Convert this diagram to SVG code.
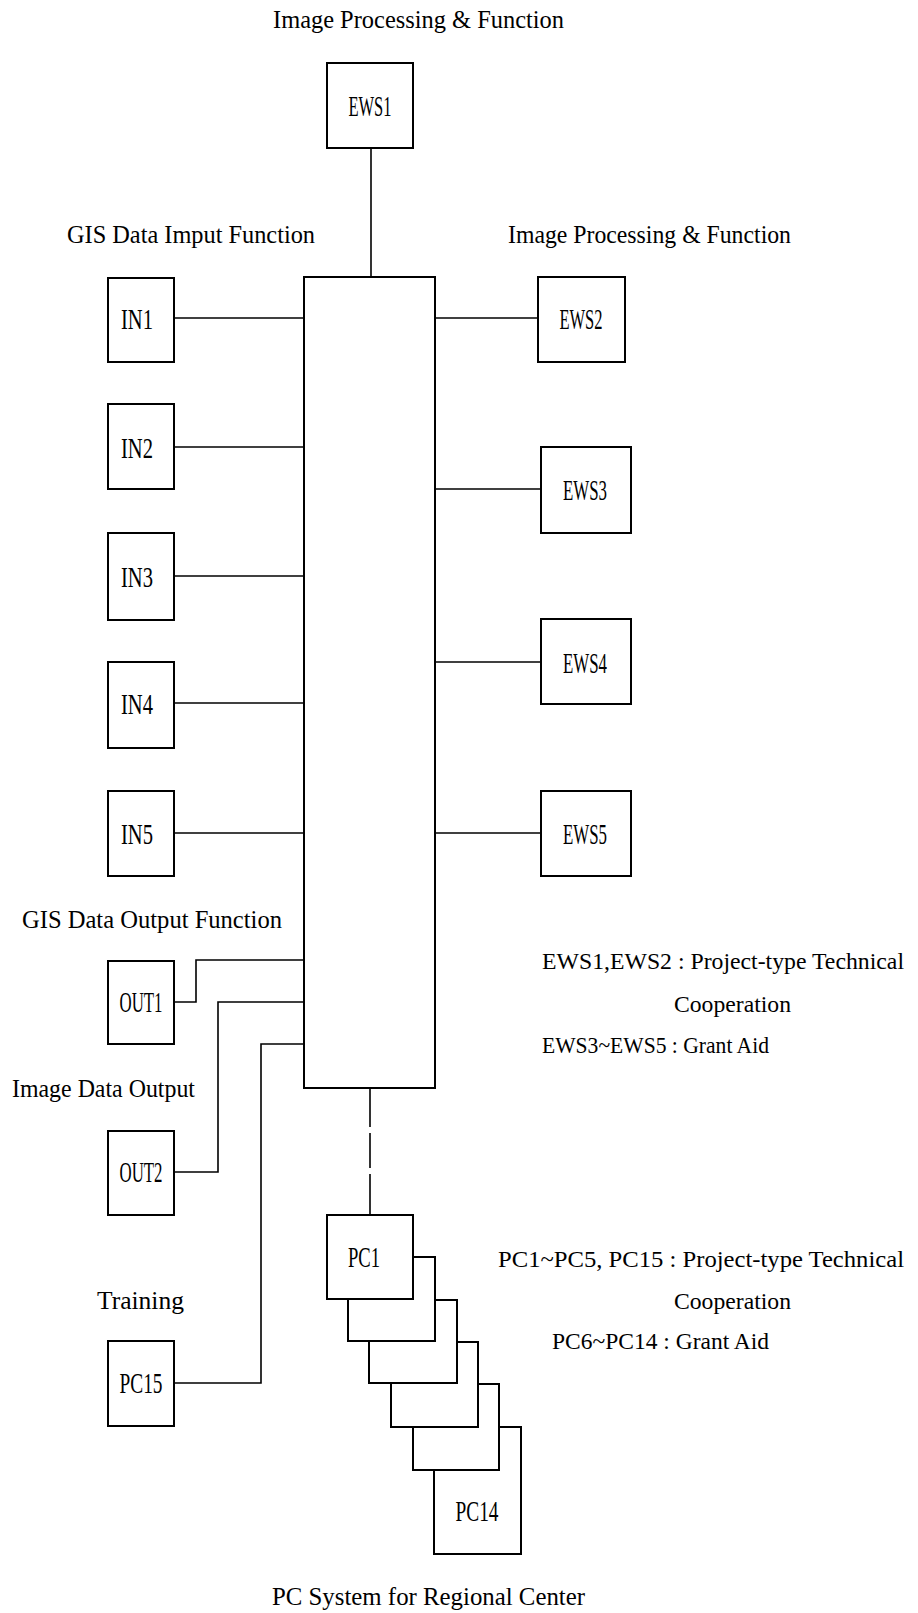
<svg xmlns="http://www.w3.org/2000/svg" width="918" height="1613" viewBox="0 0 918 1613">
<style>
.box{fill:#fff;stroke:#000;stroke-width:2}
.ln{fill:none;stroke:#000;stroke-width:1.6}
text{font-family:"Liberation Serif","Times New Roman",serif;fill:#000}
.lbl{font-size:25px}
.leg{font-size:23px}
.bx{font-size:29px;text-anchor:middle}
</style>
<rect width="918" height="1613" fill="#fff"/>
<g id="connectors">
<line class="ln" x1="371" y1="148" x2="371" y2="277"/>
<line class="ln" x1="174" y1="318" x2="304" y2="318"/>
<line class="ln" x1="174" y1="447" x2="304" y2="447"/>
<line class="ln" x1="174" y1="576" x2="304" y2="576"/>
<line class="ln" x1="174" y1="703" x2="304" y2="703"/>
<line class="ln" x1="174" y1="833" x2="304" y2="833"/>
<line class="ln" x1="435" y1="318" x2="538" y2="318"/>
<line class="ln" x1="435" y1="489" x2="541" y2="489"/>
<line class="ln" x1="435" y1="662" x2="541" y2="662"/>
<line class="ln" x1="435" y1="833" x2="541" y2="833"/>
<polyline class="ln" points="174,1002 196,1002 196,960 304,960"/>
<polyline class="ln" points="304,1002 218,1002 218,1172 174,1172"/>
<polyline class="ln" points="304,1044 261,1044 261,1383 174,1383"/>
<line class="ln" x1="370" y1="1088" x2="370" y2="1215" stroke-dasharray="39 6 35 6 50"/>
</g>
<g id="titles">
<text class="lbl" x="273" y="28" textLength="291" lengthAdjust="spacingAndGlyphs">Image Processing &amp; Function</text>
<text class="lbl" x="67" y="243" textLength="248" lengthAdjust="spacingAndGlyphs">GIS Data Imput Function</text>
<text class="lbl" x="508" y="243" textLength="283" lengthAdjust="spacingAndGlyphs">Image Processing &amp; Function</text>
<text class="lbl" x="22" y="928" textLength="260" lengthAdjust="spacingAndGlyphs">GIS Data Output Function</text>
<text class="lbl" x="12" y="1097" textLength="183" lengthAdjust="spacingAndGlyphs">Image Data Output</text>
<text class="lbl" x="97" y="1309" textLength="87" lengthAdjust="spacingAndGlyphs">Training</text>
<text class="lbl" x="272" y="1605" textLength="313" lengthAdjust="spacingAndGlyphs">PC System for Regional Center</text>
</g>
<g id="legend">
<text class="leg" x="542" y="969" textLength="362" lengthAdjust="spacingAndGlyphs">EWS1,EWS2 : Project-type Technical</text>
<text class="leg" x="674" y="1012" textLength="117" lengthAdjust="spacingAndGlyphs">Cooperation</text>
<text class="leg" x="542" y="1053" textLength="227" lengthAdjust="spacingAndGlyphs">EWS3~EWS5 : Grant Aid</text>
<text class="leg" x="498" y="1267" textLength="406" lengthAdjust="spacingAndGlyphs">PC1~PC5, PC15 : Project-type Technical</text>
<text class="leg" x="674" y="1309" textLength="117" lengthAdjust="spacingAndGlyphs">Cooperation</text>
<text class="leg" x="552" y="1349" textLength="217" lengthAdjust="spacingAndGlyphs">PC6~PC14 : Grant Aid</text>
</g>
<g id="main"><rect class="box" x="304" y="277" width="131" height="811"/></g>
<g id="EWS1"><rect class="box" x="327" y="63" width="86" height="85"/><text class="bx" x="370" y="116" textLength="43" lengthAdjust="spacingAndGlyphs">EWS1</text></g>
<g id="EWS2"><rect class="box" x="538" y="277" width="87" height="85"/><text class="bx" x="581" y="329" textLength="43" lengthAdjust="spacingAndGlyphs">EWS2</text></g>
<g id="EWS3"><rect class="box" x="541" y="447" width="90" height="86"/><text class="bx" x="585" y="500" textLength="44" lengthAdjust="spacingAndGlyphs">EWS3</text></g>
<g id="EWS4"><rect class="box" x="541" y="619" width="90" height="85"/><text class="bx" x="585" y="673" textLength="44" lengthAdjust="spacingAndGlyphs">EWS4</text></g>
<g id="EWS5"><rect class="box" x="541" y="791" width="90" height="85"/><text class="bx" x="585" y="844" textLength="44" lengthAdjust="spacingAndGlyphs">EWS5</text></g>
<g id="IN1"><rect class="box" x="108" y="278" width="66" height="84"/><text class="bx" x="137" y="329" textLength="32" lengthAdjust="spacingAndGlyphs">IN1</text></g>
<g id="IN2"><rect class="box" x="108" y="404" width="66" height="85"/><text class="bx" x="137" y="458" textLength="32" lengthAdjust="spacingAndGlyphs">IN2</text></g>
<g id="IN3"><rect class="box" x="108" y="533" width="66" height="87"/><text class="bx" x="137" y="587" textLength="32" lengthAdjust="spacingAndGlyphs">IN3</text></g>
<g id="IN4"><rect class="box" x="108" y="662" width="66" height="86"/><text class="bx" x="137" y="714" textLength="32" lengthAdjust="spacingAndGlyphs">IN4</text></g>
<g id="IN5"><rect class="box" x="108" y="791" width="66" height="85"/><text class="bx" x="137" y="844" textLength="32" lengthAdjust="spacingAndGlyphs">IN5</text></g>
<g id="OUT1"><rect class="box" x="108" y="961" width="66" height="83"/><text class="bx" x="141" y="1012" textLength="43" lengthAdjust="spacingAndGlyphs">OUT1</text></g>
<g id="OUT2"><rect class="box" x="108" y="1131" width="66" height="84"/><text class="bx" x="141" y="1182" textLength="43" lengthAdjust="spacingAndGlyphs">OUT2</text></g>
<g id="PC15"><rect class="box" x="108" y="1341" width="66" height="85"/><text class="bx" x="141" y="1393" textLength="43" lengthAdjust="spacingAndGlyphs">PC15</text></g>
<g id="PC14"><rect class="box" x="434" y="1427" width="87" height="127"/><text class="bx" x="477" y="1521" textLength="43" lengthAdjust="spacingAndGlyphs">PC14</text></g>
<g id="PC-stack">
<rect class="box" x="413" y="1384" width="86" height="86"/>
<rect class="box" x="391" y="1342" width="87" height="85"/>
<rect class="box" x="369" y="1300" width="88" height="83"/>
<rect class="box" x="348" y="1257" width="87" height="84"/>
</g>
<g id="PC1"><rect class="box" x="327" y="1215" width="86" height="84"/><text class="bx" x="364" y="1267" textLength="32" lengthAdjust="spacingAndGlyphs">PC1</text></g>
</svg>
